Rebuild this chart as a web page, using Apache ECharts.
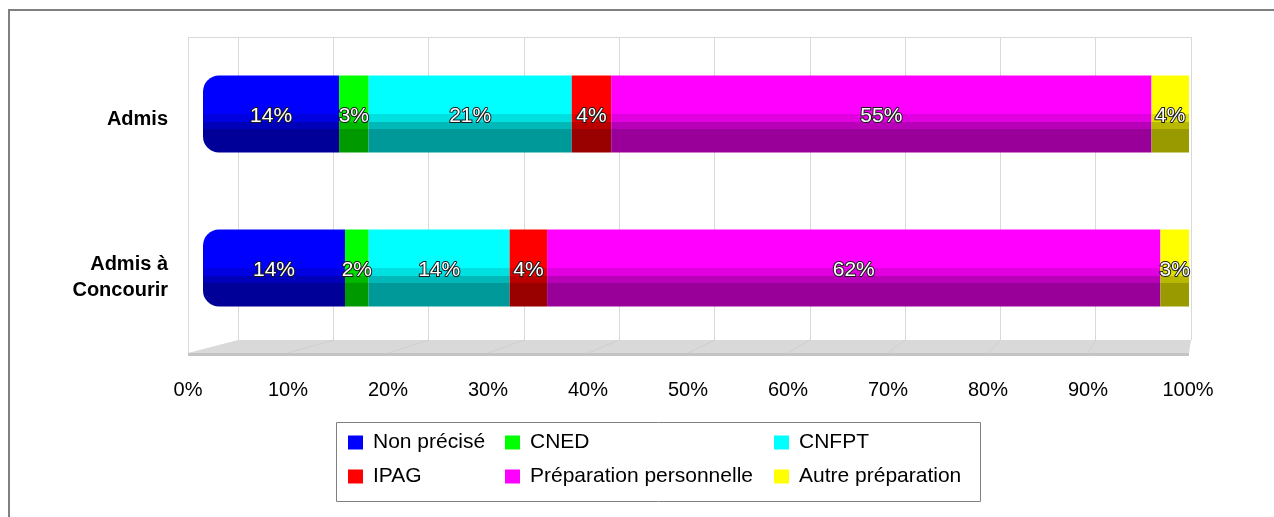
<!DOCTYPE html>
<html><head><meta charset="utf-8">
<script src="https://cdn.jsdelivr.net/npm/echarts@6/dist/echarts.min.js"></script>
<style>html,body{margin:0;padding:0;background:#fff}#c{width:1274px;height:517px}</style>
</head><body><div id="c"></div><script>
const categories = ['Admis', 'Admis à\nConcourir'];
const seriesNames = ['Non précisé', 'CNED', 'CNFPT', 'IPAG', 'Préparation personnelle', 'Autre préparation'];
const baseColors = ['#0000ff', '#00ff00', '#00ffff', '#ff0000', '#ff00ff', '#ffff00'];
const nonPrecise = [13.8, 14.4];
const cned = [3.0, 2.4];
const cnfpt = [20.6, 14.3];
const ipag = [4.0, 3.8];
const prepPerso = [54.8, 62.2];
const autre = [3.8, 2.9];
const xTickLabels = ['0%', '10%', '20%', '30%', '40%', '50%', '60%', '70%', '80%', '90%', '100%'];
const seriesValues = [nonPrecise, cned, cnfpt, ipag, prepPerso, autre];

const FONT = '"Liberation Sans", Arial, sans-serif';
function shade(hex, f) {
  const r = Math.round(parseInt(hex.slice(1, 3), 16) * f);
  const g = Math.round(parseInt(hex.slice(3, 5), 16) * f);
  const b = Math.round(parseInt(hex.slice(5, 7), 16) * f);
  return 'rgb(' + r + ',' + g + ',' + b + ')';
}
function cyl(hex) {
  const s1 = shade(hex, 0.88), s2 = shade(hex, 0.72), s3 = shade(hex, 0.6);
  return {type: 'linear', x: 0, y: 0, x2: 0, y2: 1, colorStops: [
    {offset: 0, color: hex}, {offset: 0.5, color: hex},
    {offset: 0.5, color: s1}, {offset: 0.6, color: s1},
    {offset: 0.6, color: s2}, {offset: 0.7, color: s2},
    {offset: 0.7, color: s3}, {offset: 1, color: s3}]};
}
function legendItem(i) { return {name: seriesNames[i], itemStyle: {color: baseColors[i]}}; }
function legendCfg(idx, left) {
  return {data: idx.map(legendItem), orient: 'vertical', left: left, top: 432, padding: 0,
    itemWidth: 15, itemHeight: 14, itemGap: 13, icon: 'rect', selectedMode: false,
    textStyle: {fontSize: 21, color: '#000', fontFamily: FONT, padding: [0, 0, 0, 5]}};
}

const chart = echarts.init(document.getElementById('c'), null, {renderer: 'canvas'});
const option = {
  animation: false,
  backgroundColor: '#fff',
  grid: [
    {left: 203, right: 85, top: 37, bottom: 172},
    {left: 188, right: 86, top: 37, bottom: 164},
    {left: 238, right: 83, top: 37, bottom: 177},
    {left: 203, right: 85, top: 40, bottom: 161}
  ],
  xAxis: [
    {gridIndex: 0, type: 'value', min: 0, max: 100, show: false},
    {gridIndex: 1, type: 'value', min: 0, max: 100, interval: 10, position: 'bottom',
      axisLine: {show: false}, axisTick: {show: false}, splitLine: {show: false},
      axisLabel: {margin: 27, fontSize: 20, color: '#000', fontFamily: FONT,
        formatter: v => xTickLabels[Math.round(v / 10)]}},
    {gridIndex: 2, type: 'value', min: 0, max: 100, interval: 10,
      axisLine: {show: false}, axisTick: {show: false}, axisLabel: {show: false},
      splitLine: {show: true, lineStyle: {color: '#d9d9d9', width: 1}}},
    {gridIndex: 3, type: 'value', min: 0, max: 100, show: false}
  ],
  yAxis: [
    {gridIndex: 0, type: 'category', data: categories, inverse: true, show: false},
    {gridIndex: 1, type: 'value', min: 0, max: 1, show: false},
    {gridIndex: 2, type: 'value', min: 0, max: 1, show: false},
    {gridIndex: 3, type: 'category', data: categories, inverse: true,
      axisLine: {show: false}, axisTick: {show: false}, splitLine: {show: false},
      axisLabel: {margin: 35, fontSize: 20, fontWeight: 'bold', color: '#000', fontFamily: FONT,
        lineHeight: 26, align: 'right'}}
  ],
  legend: [legendCfg([0, 3], 348), legendCfg([1, 4], 505), legendCfg([2, 5], 774)],
  series: seriesValues.map((vals, i) => ({
    name: seriesNames[i], type: 'bar', stack: 'total', xAxisIndex: 0, yAxisIndex: 0,
    barWidth: 77, data: vals,
    itemStyle: {color: cyl(baseColors[i]), borderRadius: i === 0 ? [16, 0, 0, 16] : 0},
    label: {show: true, position: 'inside', offset: [0, 2], color: '#ffffff', fontSize: 21, fontFamily: FONT,
      textBorderColor: '#1a1a1a', textBorderWidth: 2, formatter: p => Math.round(p.value) + '%'}
  }))
};
chart.setOption(option);

// decorative 3D walls / floor derived from axes
const fx0 = chart.convertToPixel({xAxisIndex: 1}, 0), fx1 = chart.convertToPixel({xAxisIndex: 1}, 100);
const bx0 = chart.convertToPixel({xAxisIndex: 2}, 0), bx1 = chart.convertToPixel({xAxisIndex: 2}, 100);
const frontY = chart.convertToPixel({yAxisIndex: 1}, 0), topY = chart.convertToPixel({yAxisIndex: 1}, 1);
const backY = chart.convertToPixel({yAxisIndex: 2}, 0);
const gfx = [
  {type: 'rect', shape: {x: 9, y: 10, width: 1400, height: 700}, style: {fill: null, stroke: '#808080', lineWidth: 2}, z: 0},
  {type: 'polygon', shape: {points: [[fx0, frontY], [bx0, backY], [bx1, backY], [fx1 + 1, frontY]]}, style: {fill: '#d9d9d9'}, z: 0},
  {type: 'rect', shape: {x: fx0, y: frontY, width: fx1 + 1 - fx0, height: 3}, style: {fill: '#c4c4c4'}, z: 0},
  {type: 'line', shape: {x1: fx0 + 0.5, y1: topY, x2: fx0 + 0.5, y2: frontY}, style: {stroke: '#d9d9d9', lineWidth: 1}, z: 0},
  {type: 'line', shape: {x1: fx0, y1: topY + 0.5, x2: bx1, y2: topY + 0.5}, style: {stroke: '#d9d9d9', lineWidth: 1}, z: 0},
  {type: 'rect', shape: {x: 336.5, y: 422.5, width: 644, height: 79}, style: {fill: null, stroke: '#808080', lineWidth: 1}, z: 0}
];
for (let k = 1; k < 10; k++) {
  const v = k * 10;
  gfx.push({type: 'line', shape: {x1: chart.convertToPixel({xAxisIndex: 1}, v), y1: frontY,
    x2: chart.convertToPixel({xAxisIndex: 2}, v), y2: backY}, style: {stroke: '#cfcfcf', lineWidth: 1}, z: 0});
}
chart.setOption({graphic: gfx});
</script></body></html>
